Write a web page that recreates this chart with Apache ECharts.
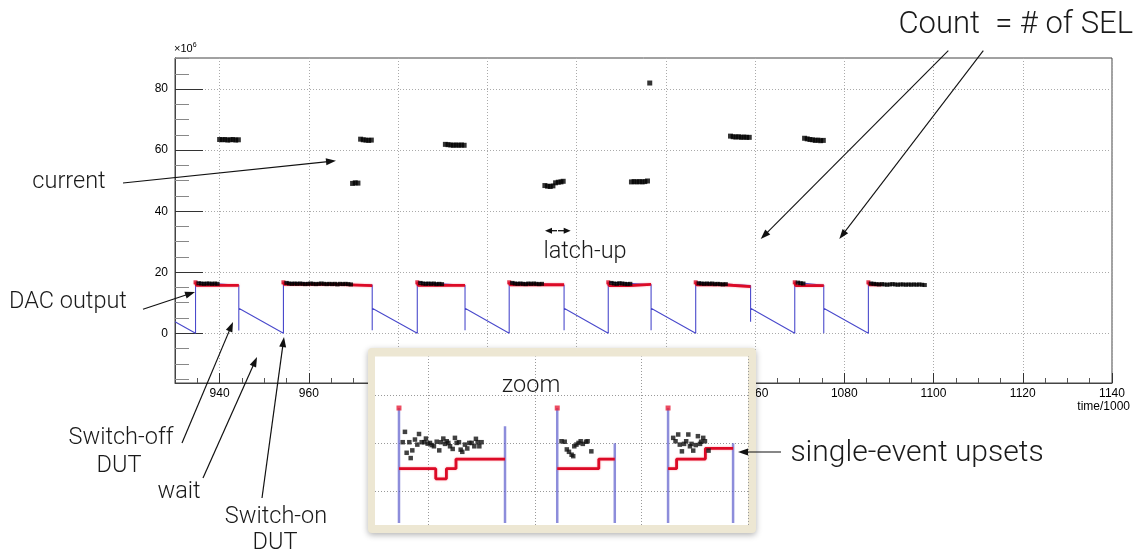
<!DOCTYPE html>
<html><head><meta charset="utf-8">
<script src="https://cdn.jsdelivr.net/npm/echarts@6/dist/echarts.min.js"></script>
<style>html,body{margin:0;padding:0;background:#fff}#c{width:1142px;height:556px}</style>
</head><body><div id="c"></div>
<script>
// ---------- main axes ----------
const xRange = [930, 1140];
const yRange = [-16.3, 90.2];
const xMajorTicks = [940, 960, 980, 1000, 1020, 1040, 1060, 1080, 1100, 1120, 1140];
const xMinorTicks = [935, 945, 950, 955, 965, 970, 975, 985, 990, 995, 1005, 1010, 1015, 1025, 1030, 1035, 1045, 1050, 1055, 1065, 1070, 1075, 1085, 1090, 1095, 1105, 1110, 1115, 1125, 1130, 1135];
const yMajorTicks = [0, 20, 40, 60, 80];
const yMinorTicks = [-15, -10, -5, 5, 10, 15, 25, 30, 35, 45, 50, 55, 65, 70, 75, 85, 90];

// DAC output (blue)
const dacLine = [[930, 3.8], [934.6, 0], [934.6, 16.7], [944.3, 15.7], [944.3, 0.9], [944.3, 8.2], [954.3, 0],
  [954.3, 16.7], [974.2, 15.8], [974.2, 1.0], [974.2, 8.2], [984.3, 0],
  [984.3, 16.7], [995.0, 15.7], [995.0, 1.0], [995.0, 8.2], [1004.9, 0],
  [1004.9, 16.7], [1017.2, 15.8], [1017.2, 1.0], [1017.2, 8.2], [1027.1, 0],
  [1027.1, 16.7], [1036.7, 16.0], [1036.7, 1.0], [1036.7, 8.2], [1046.7, 0],
  [1046.7, 16.7], [1059.0, 15.6], [1059.0, 3.8], [1059.0, 8.2], [1068.9, 0],
  [1068.9, 16.7], [1075.4, 15.7], [1075.4, 0], [1075.4, 8.2], [1085.4, 0],
  [1085.4, 16.7], [1088.4, 16.0]];

// red step line segments
const redSegments = [
  [[934.6, 16.7], [934.8, 15.7], [944.3, 15.7]],
  [[954.3, 16.7], [954.5, 16.0], [966.0, 16.0], [966.0, 15.6], [974.2, 15.6]],
  [[984.3, 16.7], [984.5, 15.7], [995.0, 15.7]],
  [[1004.9, 16.7], [1005.1, 15.9], [1017.2, 15.9]],
  [[1027.1, 16.7], [1027.3, 15.6], [1032.0, 15.6], [1032.0, 16.0], [1036.7, 16.0]],
  [[1046.7, 16.7], [1046.9, 15.9], [1053.0, 15.9], [1053.0, 15.3], [1059.0, 15.3]],
  [[1068.9, 16.7], [1069.1, 15.6], [1075.4, 15.6]],
  [[1085.4, 16.7], [1085.6, 15.9], [1088.4, 15.9]]
];

// current (black squares, upper)
const currentPoints = [
  [940.0, 63.5], [940.6, 63.4], [941.2, 63.5], [941.8, 63.3], [942.4, 63.4], [943.0, 63.5], [943.6, 63.3], [944.2, 63.4],
  [969.8, 49.1], [970.4, 49.3], [971.0, 49.2],
  [971.6, 63.6], [972.2, 63.4], [972.8, 63.3], [973.4, 63.2], [974.0, 63.3],
  [990.6, 61.9], [991.2, 61.8], [991.8, 61.7], [992.4, 61.6], [993.0, 61.7], [993.6, 61.6], [994.2, 61.7], [994.8, 61.6],
  [1012.9, 48.4], [1013.5, 48.2], [1014.1, 48.1], [1014.7, 48.3], [1015.3, 49.3], [1015.9, 49.5], [1016.5, 49.6], [1017.0, 49.8],
  [1032.3, 49.6], [1032.9, 49.7], [1033.5, 49.6], [1034.1, 49.7], [1034.7, 49.6], [1035.3, 49.7], [1035.9, 49.9],
  [1036.4, 82.0],
  [1054.5, 64.6], [1055.1, 64.4], [1055.7, 64.3], [1056.3, 64.4], [1056.9, 64.2], [1057.5, 64.3], [1058.1, 64.2], [1058.7, 64.2],
  [1071.1, 63.9], [1071.7, 63.7], [1072.3, 63.5], [1072.9, 63.4], [1073.5, 63.2], [1074.1, 63.3], [1074.7, 63.1], [1075.3, 63.2]
];

// black points near the DAC level
const seuPoints = [
  [935.3, 16.4], [935.9, 16.3], [936.5, 16.2], [937.1, 16.3], [937.7, 16.3], [938.3, 16.2], [938.9, 16.3], [939.5, 16.2],
  [955.0, 16.5], [955.6, 16.3], [956.2, 16.2], [956.8, 16.3], [957.4, 16.2], [958.0, 16.3], [958.6, 16.2], [959.2, 16.1],
  [959.8, 16.2], [960.4, 16.3], [961.0, 16.2], [961.6, 16.1], [962.2, 16.2], [962.8, 16.3], [963.4, 16.2], [964.0, 16.1],
  [964.6, 16.2], [965.2, 16.1], [965.8, 16.2], [966.4, 16.0], [967.0, 16.2], [967.6, 16.1], [968.2, 16.2], [968.8, 16.1], [969.4, 16.0],
  [985.0, 16.5], [985.6, 16.3], [986.2, 16.2], [986.8, 16.3], [987.4, 16.2], [988.0, 16.3], [988.6, 16.1], [989.2, 16.2], [989.8, 16.1],
  [1005.6, 16.5], [1006.2, 16.3], [1006.8, 16.2], [1007.4, 16.3], [1008.0, 16.2], [1008.6, 16.1], [1009.2, 16.3], [1009.8, 16.2],
  [1010.4, 16.3], [1011.0, 16.2], [1011.6, 16.1], [1012.2, 16.2],
  [1027.8, 16.5], [1028.4, 16.3], [1029.0, 16.2], [1029.6, 16.4], [1030.2, 16.3], [1030.8, 16.2], [1031.4, 16.1], [1032.0, 16.2],
  [1047.4, 16.4], [1048.0, 16.3], [1048.6, 16.2], [1049.2, 16.3], [1049.8, 16.2], [1050.4, 16.3], [1051.0, 16.1], [1051.6, 16.2],
  [1052.2, 16.1], [1052.8, 16.0], [1053.4, 16.1],
  [1069.6, 16.6], [1070.2, 16.4], [1070.8, 16.3],
  [1086.0, 16.3], [1086.6, 16.2], [1087.2, 16.1], [1087.8, 16.0], [1088.4, 16.1], [1089.0, 16.0], [1089.6, 15.9], [1090.2, 16.0],
  [1090.8, 16.1], [1091.4, 16.0], [1092.0, 15.9], [1092.6, 16.0], [1093.2, 16.0], [1093.8, 15.9], [1094.4, 16.0], [1095.0, 15.9],
  [1095.6, 16.0], [1096.2, 15.9], [1096.8, 16.0], [1097.4, 15.9], [1098.0, 15.8]
];

// ---------- inset ("zoom") ----------
const insetXRange = [0, 35];
const insetYRange = [-7, 28];
const insetGridX = [5, 15, 25, 35];
const insetGridY = [0, 10, 20];
const insetBlueLines = [
  [[2.25, -6.6], [2.25, 17.3]], [[12.2, -6.6], [12.2, 13.5]],
  [[17.1, -6.6], [17.1, 17.3]], [[22.5, -6.6], [22.5, 10.0]],
  [[27.5, -6.6], [27.5, 17.3]], [[33.6, -6.6], [33.6, 10.0]]
];
const insetRedSteps = [
  [[2.25, 4.7], [5.7, 4.7], [5.7, 2.6], [6.7, 2.6], [6.7, 4.7], [7.6, 4.7], [7.6, 6.7], [12.2, 6.7]],
  [[17.1, 4.7], [21.0, 4.7], [21.0, 6.7], [22.5, 6.7]],
  [[27.5, 4.7], [28.3, 4.7], [28.3, 6.7], [31.0, 6.7], [31.0, 8.9], [33.6, 8.9]]
];
const insetRedTops = [[2.25, 17.3], [17.1, 17.3], [27.5, 17.3]];
const insetPoints = [
  [2.81, 12.35], [2.6, 10.2], [2.97, 8.0], [3.35, 6.9], [3.22, 10.2], [3.5, 8.5], [3.75, 10.75], [3.97, 9.7], [4.13, 11.9],
  [4.38, 10.2], [4.63, 10.2], [4.78, 10.95], [4.94, 9.9], [5.16, 10.05], [5.32, 9.6], [5.53, 9.35], [5.79, 10.3], [6.03, 8.5],
  [6.19, 10.2], [6.41, 10.95], [6.57, 9.85], [6.73, 10.4], [6.88, 10.05], [7.04, 9.35], [7.29, 8.8], [7.5, 11.1], [7.66, 10.05],
  [7.88, 10.2], [8.04, 8.65], [8.19, 8.2], [8.44, 9.7], [8.66, 8.9], [8.85, 10.05], [9.07, 10.05], [9.32, 9.35], [9.47, 10.9],
  [9.63, 10.2], [9.79, 9.35], [10.0, 10.2],
  [17.5, 10.4], [17.8, 10.3], [18.0, 8.7], [18.2, 8.2], [18.45, 7.6], [18.6, 7.3], [18.7, 9.35], [18.9, 9.7], [19.1, 10.05],
  [19.3, 10.4], [19.5, 9.85], [19.8, 10.3], [19.95, 10.4], [20.3, 8.3],
  [27.98, 11.1], [28.2, 10.4], [28.45, 11.8], [28.6, 9.7], [28.8, 8.3], [29.0, 9.85], [29.2, 10.4], [29.4, 11.8], [29.55, 9.35],
  [29.7, 9.85], [29.86, 8.45], [30.1, 9.6], [30.3, 11.45], [30.5, 9.85], [30.6, 10.3], [30.8, 11.1], [30.96, 10.4], [31.3, 8.45]
];

// ---------- build chart ----------
const AF = 'Roboto, "Liberation Sans", sans-serif';
const axisFont = '"Liberation Sans", Arial, sans-serif';
function arrow(x1, y1, x2, y2, head, w, lw) {
  head = head || 10; w = w || 3.5; lw = lw || 1.2;
  const a = Math.atan2(y2 - y1, x2 - x1), c = Math.cos(a), s = Math.sin(a);
  const bx = x2 - head * c, by = y2 - head * s;
  return [
    { type: 'line', z: 100, silent: true, shape: { x1: x1, y1: y1, x2: bx + 2 * c, y2: by + 2 * s }, style: { stroke: '#111', lineWidth: lw } },
    { type: 'polygon', z: 100, silent: true, shape: { points: [[x2, y2], [bx - s * w, by + c * w], [bx + s * w, by - c * w]] }, style: { fill: '#111' } }
  ];
}
function label(text, x, y, align, size) {
  return { type: 'text', z: 100, silent: true, x: x, y: y,
    style: { text: text, font: '300 ' + (size || 23.5) + 'px ' + AF, fill: '#1a1a1a', align: align || 'center', verticalAlign: 'middle' } };
}
const plainFmt = function (v) { return String(v); };

const series = [];
series.push({ type: 'line', xAxisIndex: 0, yAxisIndex: 0, data: dacLine, symbol: 'none', z: 2,
  lineStyle: { color: '#4a4acc', width: 1.1 }, silent: true, animation: false });
redSegments.forEach(function (seg) {
  series.push({ type: 'line', xAxisIndex: 0, yAxisIndex: 0, data: seg, symbol: 'none', z: 3,
    lineStyle: { color: '#dc0a26', width: 2.8, shadowColor: 'rgba(255,80,100,0.6)', shadowBlur: 2 }, silent: true, animation: false });
});
series.push({ type: 'scatter', xAxisIndex: 0, yAxisIndex: 0, data: redSegments.map(function (s) { return s[0]; }),
  symbol: 'rect', symbolSize: 4, itemStyle: { color: '#dc0a26' }, z: 4, silent: true, animation: false });
series.push({ type: 'scatter', xAxisIndex: 0, yAxisIndex: 0, data: seuPoints, symbol: 'rect', symbolSize: [4.5, 4],
  itemStyle: { color: '#000' }, z: 5, silent: true, animation: false });
series.push({ type: 'scatter', xAxisIndex: 0, yAxisIndex: 0, data: currentPoints, symbol: 'rect', symbolSize: [5, 5],
  itemStyle: { color: '#000' }, z: 5, silent: true, animation: false });

// inset series
insetBlueLines.forEach(function (seg, i) {
  const s = { type: 'line', xAxisIndex: 2, yAxisIndex: 2, data: seg, symbol: 'none', z: 61,
    lineStyle: { color: 'rgba(80,80,200,0.65)', width: 2.5 }, silent: true, animation: false };
  if (i === 0) {
    s.markLine = { silent: true, symbol: 'none', animation: false, label: { show: false }, z: 60,
      lineStyle: { color: '#999', type: [1, 2], width: 1 },
      data: insetGridX.map(function (v) { return { xAxis: v }; }).concat(insetGridY.map(function (v) { return { yAxis: v }; })) };
  }
  series.push(s);
});
insetRedSteps.forEach(function (seg) {
  series.push({ type: 'line', xAxisIndex: 2, yAxisIndex: 2, data: seg, symbol: 'none', z: 62,
    lineStyle: { color: '#dc0a26', width: 2.8, shadowColor: 'rgba(255,80,100,0.6)', shadowBlur: 2 }, silent: true, animation: false });
});
series.push({ type: 'scatter', xAxisIndex: 2, yAxisIndex: 2, data: insetRedTops, symbol: 'rect', symbolSize: 5,
  itemStyle: { color: '#e8203a' }, z: 63, silent: true, animation: false });
series.push({ type: 'scatter', xAxisIndex: 2, yAxisIndex: 2, data: insetPoints, symbol: 'rect', symbolSize: 4.5,
  itemStyle: { color: '#111' }, z: 64, silent: true, animation: false });

let graphics = [
  // inset frame
  { type: 'rect', z: 50, silent: true, shape: { x: 368, y: 348, width: 388, height: 185, r: 4 },
    style: { fill: '#ede7d3', shadowBlur: 6, shadowColor: 'rgba(0,0,0,0.3)', shadowOffsetY: 2 } },
  { type: 'rect', z: 51, silent: true, shape: { x: 375, y: 356.5, width: 373, height: 168.5 }, style: { fill: '#fff' } },
  // axis decorations
  { type: 'text', z: 10, silent: true, x: 174, y: 55,
    style: { text: '×10{s|6}', font: '11px ' + axisFont, fill: '#000', verticalAlign: 'bottom',
      rich: { s: { fontSize: 7, verticalAlign: 'top', padding: [0, 0, 6, 0], fontFamily: axisFont } } } },
  { type: 'text', z: 10, silent: true, x: 1130, y: 407,
    style: { text: 'time/1000', font: '12px ' + axisFont, fill: '#000', align: 'right', verticalAlign: 'middle' } },
  // annotations
  label('Count  = # of SEL', 1133, 25, 'right', 31),
  label('current', 69, 182),
  label('DAC output', 68, 302),
  label('latch-up', 585, 252),
  label('Switch-off', 121, 438),
  label('DUT', 119, 466),
  label('wait', 179, 492),
  label('Switch-on', 276, 517),
  label('DUT', 275, 543),
  label('zoom', 531, 386),
  label('single-event upsets', 917, 453, 'center', 30)
];
graphics = graphics
  .concat(arrow(948.3, 50.7, 760.7, 239, 10, 3.5, 1.1))
  .concat(arrow(983.3, 50.7, 839.3, 239, 10, 3.5, 1.1))
  .concat(arrow(123, 183, 336, 160.7))
  .concat(arrow(143, 309.3, 195, 292))
  .concat(arrow(182, 443, 233, 322))
  .concat(arrow(203, 478, 257, 357))
  .concat(arrow(262, 498, 284, 337))
  .concat(arrow(781, 452, 738, 452))
  .concat(arrow(557, 230.7, 545, 230.7, 7, 3, 1.3))
  .concat(arrow(558, 230.7, 570.7, 230.7, 7, 3, 1.3));

const option = {
  animation: false,
  backgroundColor: '#fff',
  grid: [
    { left: 175, right: 30, top: 58, bottom: 173, show: true, borderColor: '#444', borderWidth: 1, backgroundColor: 'transparent' },
    { left: 375, top: 356.5, width: 373, height: 168.5, show: false }
  ],
  xAxis: [
    { type: 'value', gridIndex: 0, min: xRange[0], max: xRange[1], splitNumber: 10, position: 'bottom',
      axisLine: { show: true, onZero: false, lineStyle: { color: '#444' } },
      axisTick: { show: true, inside: true, length: 10, customValues: xMajorTicks, lineStyle: { color: '#333' } },
      axisLabel: { show: true, customValues: xMajorTicks, formatter: plainFmt, margin: 5, fontSize: 12, fontFamily: axisFont, color: '#000' },
      splitLine: { show: true, lineStyle: { color: '#aaa', type: [1, 2], width: 1 } } },
    { type: 'value', gridIndex: 0, min: xRange[0], max: xRange[1], position: 'bottom',
      axisLine: { show: false, onZero: false },
      axisTick: { show: true, inside: true, length: 5, customValues: xMinorTicks, lineStyle: { color: '#555' } },
      axisLabel: { show: false }, splitLine: { show: false } },
    { type: 'value', gridIndex: 1, min: insetXRange[0], max: insetXRange[1], show: false }
  ],
  yAxis: [
    { type: 'value', gridIndex: 0, min: yRange[0], max: yRange[1], splitNumber: 5, position: 'left',
      axisLine: { show: true, onZero: false, lineStyle: { color: '#444' } },
      axisTick: { show: true, inside: true, length: 28, customValues: yMajorTicks, lineStyle: { color: '#333' } },
      axisLabel: { show: true, customValues: yMajorTicks, formatter: plainFmt, margin: 7, fontSize: 12, fontFamily: axisFont, color: '#000' },
      splitLine: { show: true, lineStyle: { color: '#aaa', type: [1, 2], width: 1 } } },
    { type: 'value', gridIndex: 0, min: yRange[0], max: yRange[1], position: 'left',
      axisLine: { show: false, onZero: false },
      axisTick: { show: true, inside: true, length: 14, customValues: yMinorTicks, lineStyle: { color: '#888' } },
      axisLabel: { show: false }, splitLine: { show: false } },
    { type: 'value', gridIndex: 1, min: insetYRange[0], max: insetYRange[1], show: false }
  ],
  graphic: { elements: graphics },
  series: series
};
const chart = echarts.init(document.getElementById('c'), null, { renderer: 'canvas' });
chart.setOption(option);
</script></body></html>
